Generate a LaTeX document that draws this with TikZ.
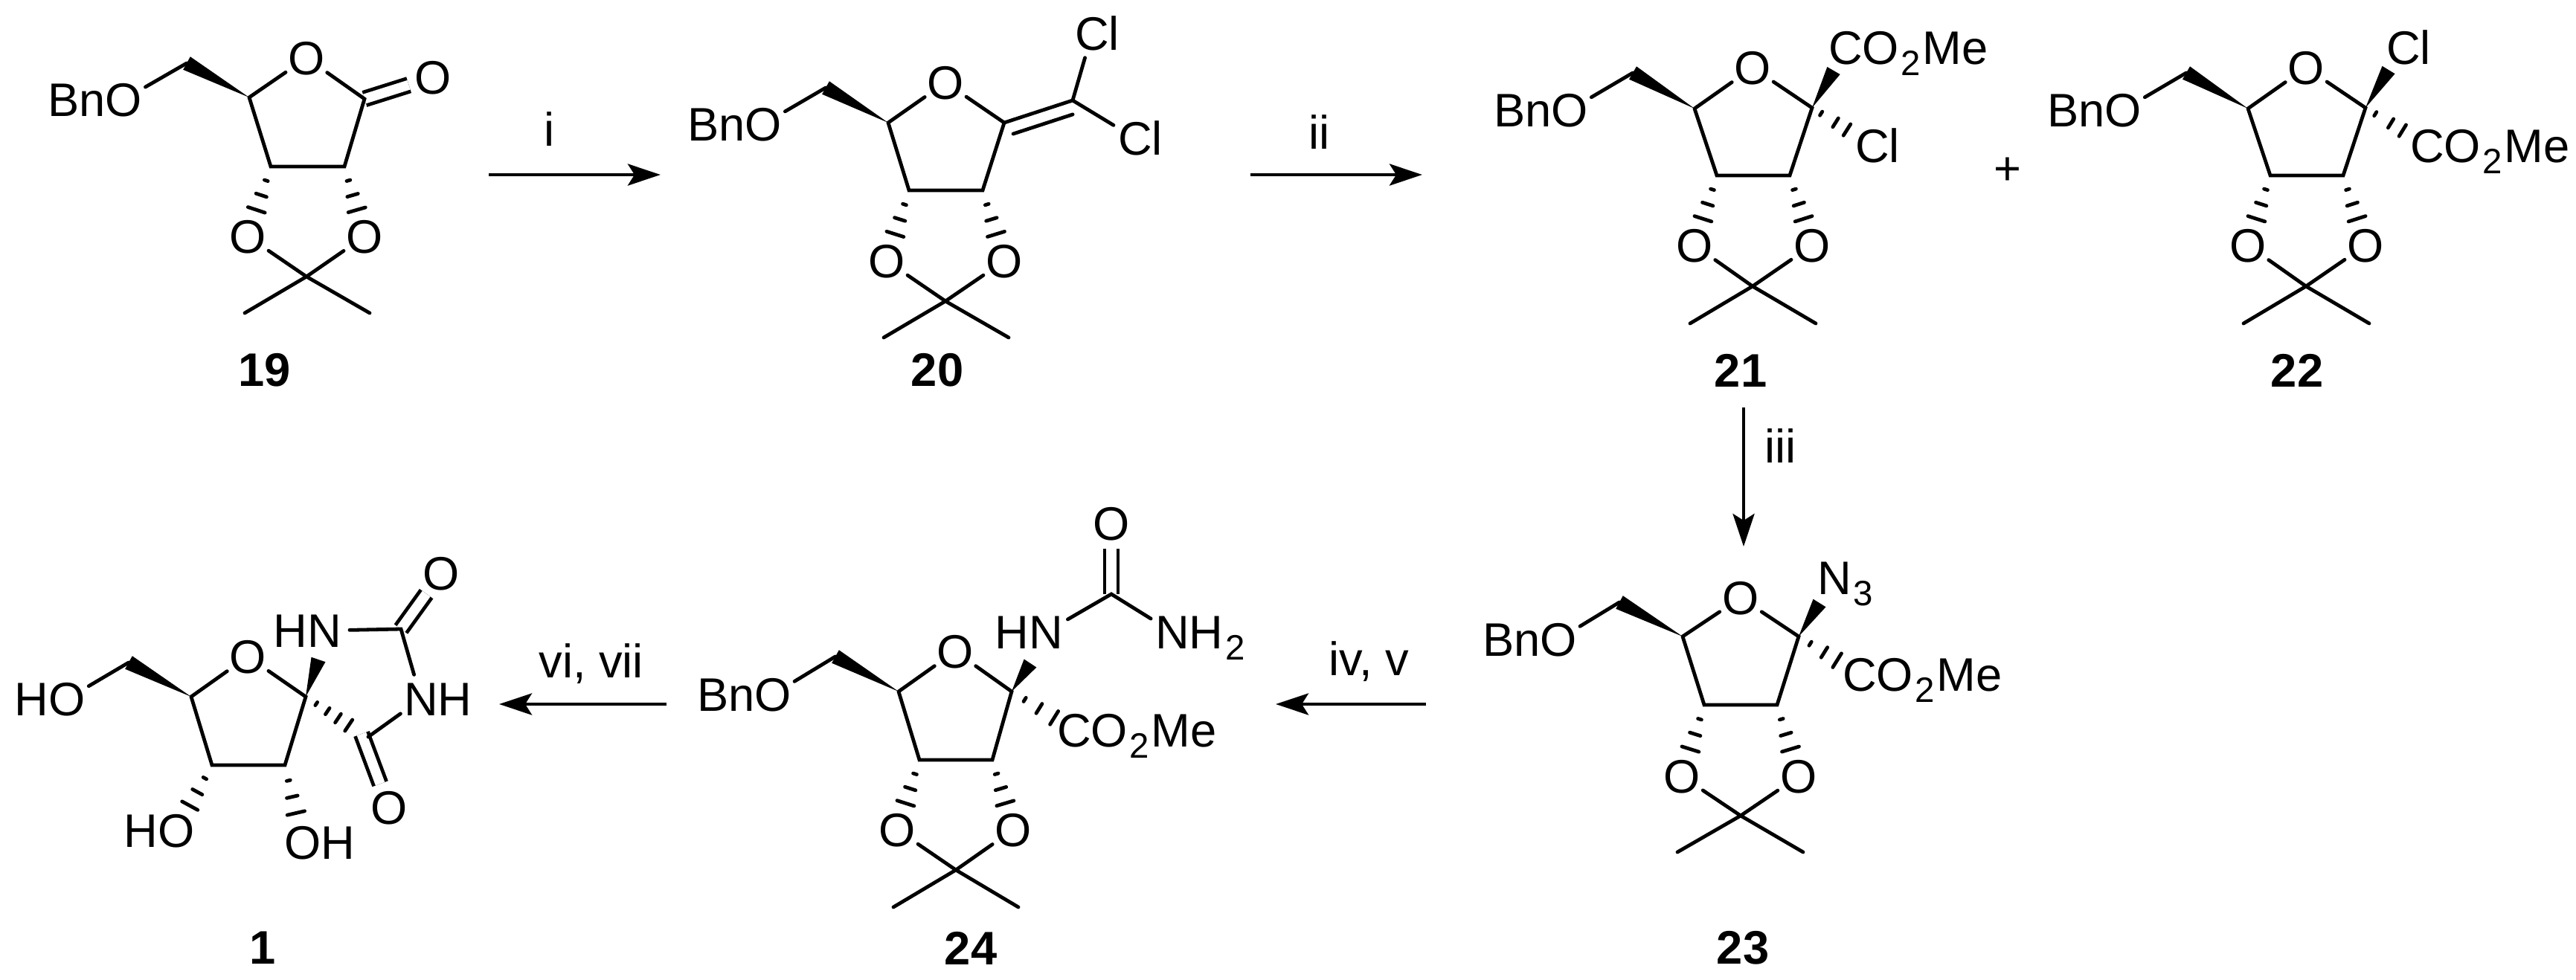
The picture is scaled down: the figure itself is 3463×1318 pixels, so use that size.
\documentclass[tikz,border=0pt]{standalone}
\usepackage{fontspec}
\setmainfont{Liberation Sans}
\usetikzlibrary{calc,arrows.meta}

\newcommand{\chemfont}{\fontsize{18}{20}\selectfont}
\newcommand{\subnum}[1]{\hspace{.04em}\raisebox{-.24em}{\fontsize{13.5}{14}\selectfont #1}\hspace{.04em}}
\newcommand{\wedgebond}[2]{\fill ($(#2.center)!1mm!90:(#1.center)$) -- (#1.center) -- ($(#2.center)!1mm!-90:(#1.center)$) -- cycle;}
\newcommand{\hashbond}[3][.2/.25mm,.41/.75mm,.62/1.2mm]{%
  \foreach \pos/\half in {#1}
    \draw[bond] ($(#2.center)!\pos!(#3.center)!\half!90:(#3.center)$) -- ($(#2.center)!\pos!(#3.center)!\half!-90:(#3.center)$);}

\tikzset{
  atom/.style={circle, inner sep=0pt, outer sep=0pt, minimum size=6.8mm, text height=4.5mm, text depth=0pt, font=\chemfont},
  bond/.style={line width=.48mm, line cap=round},
  dbond/.style={line width=.48mm, double, double distance=1.32mm},
  rxn/.style={line width=.48mm, -{Stealth[length=4.4mm,width=2.9mm,inset=.9mm]}},
  reagent/.style={inner sep=0pt, text height=4.5mm, text depth=0pt, font=\chemfont},
  cpd/.style={inner sep=0pt, font=\chemfont\bfseries}
}

\begin{document}
\begin{tikzpicture}[x=.1mm, y=-.1mm]
  \useasboundingbox (0,0) rectangle (3463,1318);

  % 19
  \coordinate (m19-C1) at (490,133); \coordinate (m19-C2) at (463,224); \coordinate (m19-C3) at (364,224);
  \coordinate (m19-C4) at (335,131); \coordinate (m19-C5) at (251,85);  \coordinate (m19-Cq) at (412,372);
  \coordinate (m19-M1) at (329,421); \coordinate (m19-M2) at (497,421);
  \node[atom] (m19-O) at (412,78) {O};
  \node[atom] (m19-OA) at (333,318) {O};
  \node[atom] (m19-OB) at (490,318) {O};
  \node[atom] (m19-OS) at (166,134) {\llap{Bn}O};
  \node[atom] (m19-Ok) at (582,104) {O};
  \draw[dbond] (m19-C1) -- (m19-Ok);

  % 20
  \coordinate (m20-C1) at (1350,165); \coordinate (m20-C2) at (1321,256); \coordinate (m20-C3) at (1222,256);
  \coordinate (m20-C4) at (1194,165); \coordinate (m20-C5) at (1110,118); \coordinate (m20-Cq) at (1271,405);
  \coordinate (m20-M1) at (1188,454); \coordinate (m20-M2) at (1356,454); \coordinate (m20-C6) at (1442,135);
  \node[atom] (m20-O) at (1271,111) {O};
  \node[atom] (m20-OA) at (1192,351) {O};
  \node[atom] (m20-OB) at (1350,351) {O};
  \node[atom] (m20-OS) at (1026,167) {\llap{Bn}O};
  \node[atom] (m20-Cl1) at (1468,45) {C\rlap{l}};
  \node[atom] (m20-Cl2) at (1526,186) {C\rlap{l}};
  \draw[bond] (m20-C1) -- (m20-C6) (m20-Cl1) -- (m20-C6) -- (m20-Cl2);
  \draw[bond] ($(m20-C1)!.07!(m20-C6)!1.8mm!-90:(m20-C6)$) -- ($(m20-C1)!.94!(m20-C6)!1.8mm!-90:(m20-C6)$);

  % 21
  \coordinate (m21-C1) at (2436,145); \coordinate (m21-C2) at (2406,236); \coordinate (m21-C3) at (2308,236);
  \coordinate (m21-C4) at (2278,146); \coordinate (m21-C5) at (2195,98);  \coordinate (m21-Cq) at (2356,385);
  \coordinate (m21-M1) at (2272,435); \coordinate (m21-M2) at (2441,435); \coordinate (m21-W) at (2465,95);
  \node[atom] (m21-O) at (2356,91) {O};
  \node[atom] (m21-OA) at (2278,330) {O};
  \node[atom] (m21-OB) at (2436,330) {O};
  \node[atom] (m21-OS) at (2110,148) {\llap{Bn}O};
  \node[atom] (m21-E) at (2481,64) {C\rlap{O\subnum{2}Me}};
  \node[atom] (m21-Cl) at (2517,196) {C\rlap{l}};
  \wedgebond{m21-C1}{m21-W}
  \hashbond[.15/.3mm,.39/.7mm,.58/.9mm]{m21-C1}{m21-Cl}

  % 22
  \coordinate (m22-C1) at (3180,145); \coordinate (m22-C2) at (3150,236); \coordinate (m22-C3) at (3052,236);
  \coordinate (m22-C4) at (3022,146); \coordinate (m22-C5) at (2939,98);  \coordinate (m22-Cq) at (3100,385);
  \coordinate (m22-M1) at (3016,435); \coordinate (m22-M2) at (3185,435); \coordinate (m22-W) at (3211,94);
  \node[atom] (m22-O) at (3100,91) {O};
  \node[atom] (m22-OA) at (3022,330) {O};
  \node[atom] (m22-OB) at (3180,330) {O};
  \node[atom] (m22-OS) at (2854,148) {\llap{Bn}O};
  \node[atom] (m22-Cl) at (3231,64) {C\rlap{l}};
  \node[atom] (m22-E) at (3263,196) {C\rlap{O\subnum{2}Me}};
  \wedgebond{m22-C1}{m22-W}
  \hashbond[.16/.3mm,.41/.7mm,.6/.9mm]{m22-C1}{m22-E}
  \node[reagent] (plus) at (2699,226) {+};

  % 23
  \coordinate (m23-C1) at (2418,856); \coordinate (m23-C2) at (2389,948); \coordinate (m23-C3) at (2291,948);
  \coordinate (m23-C4) at (2262,856); \coordinate (m23-C5) at (2177,810); \coordinate (m23-Cq) at (2340,1097);
  \coordinate (m23-M1) at (2255,1146); \coordinate (m23-M2) at (2424,1146); \coordinate (m23-W) at (2446,811);
  \node[atom] (m23-O) at (2340,804) {O};
  \node[atom] (m23-OA) at (2261,1044) {O};
  \node[atom] (m23-OB) at (2418,1044) {O};
  \node[atom] (m23-OS) at (2095,860) {\llap{Bn}O};
  \node[atom] (m23-N) at (2466,777) {N\rlap{\subnum{3}}};
  \node[atom] (m23-E) at (2500,907) {C\rlap{O\subnum{2}Me}};
  \wedgebond{m23-C1}{m23-W}
  \hashbond[.19/.3mm,.42/.8mm,.63/1.1mm]{m23-C1}{m23-E}

  % 24
  \coordinate (m24-C1) at (1360,930); \coordinate (m24-C2) at (1334,1022); \coordinate (m24-C3) at (1236,1022);
  \coordinate (m24-C4) at (1208,930); \coordinate (m24-C5) at (1123,883);  \coordinate (m24-Cq) at (1285,1170);
  \coordinate (m24-M1) at (1201,1220); \coordinate (m24-M2) at (1369,1220); \coordinate (m24-W) at (1385,892);
  \coordinate (m24-Cu) at (1494,799);
  \node[atom] (m24-O) at (1284,876) {O};
  \node[atom] (m24-OA) at (1206,1116) {O};
  \node[atom] (m24-OB) at (1362,1116) {O};
  \node[atom] (m24-OS) at (1039,934) {\llap{Bn}O};
  \node[atom] (m24-E) at (1444,982) {C\rlap{O\subnum{2}Me}};
  \node[atom] (m24-HN) at (1406,850) {\llap{H}N};
  \node[atom] (m24-NH2) at (1576,850) {N\rlap{H\subnum{2}}};
  \node[atom] (m24-Ok) at (1494,704) {O};
  \draw[dbond] (m24-Cu) -- (m24-Ok);
  \draw[bond] (m24-HN) -- (m24-Cu) -- (m24-NH2);
  \wedgebond{m24-C1}{m24-W}
  \hashbond[.21/.3mm,.44/.75mm,.68/1.05mm]{m24-C1}{m24-E}

  % 1
  \coordinate (m1-C1) at (411,937); \coordinate (m1-C2) at (383,1029); \coordinate (m1-C3) at (285,1029);
  \coordinate (m1-C4) at (257,937); \coordinate (m1-C5) at (173,891);  \coordinate (m1-W) at (428,887);
  \coordinate (m1-Ct) at (539,846); \coordinate (m1-Cb) at (486,987);  \coordinate (m1-Cj) at (495,991);
  \node[atom] (m1-O) at (333,883) {O};
  \node[atom] (m1-OA) at (237,1117) {\llap{H}O};
  \node[atom] (m1-OB) at (407,1133) {O\rlap{H}};
  \node[atom] (m1-OS) at (90,940) {\llap{H}O};
  \node[atom] (m1-HN) at (436,848) {\llap{H}N};
  \node[atom] (m1-NH) at (566,940) {N\rlap{H}};
  \node[atom] (m1-Ok1) at (593,771) {O};
  \node[atom] (m1-Ok2) at (523,1086) {O};
  \draw[dbond] (m1-Ct) -- (m1-Ok1);
  \draw[dbond] (m1-Cb) -- (m1-Ok2);
  \draw[bond] (m1-HN) -- (m1-Ct) -- (m1-NH) -- (m1-Cj);
  \wedgebond{m1-C1}{m1-W}
  \hashbond[.19/.25mm,.39/.5mm,.58/.7mm,.77/.9mm]{m1-C1}{m1-Cb}

  % shared ring and acetonide
  \foreach \m in {19,20,21,22,23,24,1} {
    \wedgebond{m\m-C4}{m\m-C5}
    \draw[bond] (m\m-OS) -- (m\m-C5) (m\m-C4) -- (m\m-O) -- (m\m-C1) -- (m\m-C2) -- (m\m-C3) -- (m\m-C4);
    \hashbond{m\m-C3}{m\m-OA}
    \hashbond{m\m-C2}{m\m-OB}
  }
  \foreach \m in {19,20,21,22,23,24} {
    \draw[bond] (m\m-OA) -- (m\m-Cq) -- (m\m-OB) (m\m-M1) -- (m\m-Cq) -- (m\m-M2);
  }

  % compound numbers
  \node[cpd] (lbl19) at (356,498) {19};
  \node[cpd] (lbl20) at (1260,498) {20};
  \node[cpd] (lbl21) at (2340,498) {21};
  \node[cpd] (lbl22) at (3088,498) {22};
  \node[cpd] (lbl23) at (2343,1275) {23};
  \node[cpd] (lbl24) at (1305,1275) {24};
  \node[cpd] (lbl1) at (353,1275) {1};

  % arrows
  \coordinate (a1s) at (657,235);   \coordinate (a1e) at (888,235);
  \coordinate (a2s) at (1681,235);  \coordinate (a2e) at (1912,235);
  \coordinate (a3s) at (2344,548);  \coordinate (a3e) at (2344,735);
  \coordinate (a4s) at (1917,947);  \coordinate (a4e) at (1715,947);
  \coordinate (a5s) at (896,947);   \coordinate (a5e) at (671,947);
  \draw[rxn] (a1s) -- node[reagent, pos=.355, above=3.6mm] (rgt1) {i} (a1e);
  \draw[rxn] (a2s) -- node[reagent, pos=.4, above=3.2mm] (rgt2) {ii} (a2e);
  \draw[rxn] (a3s) -- node[reagent, pos=.28, right=2.6mm] (rgt3) {iii} (a3e);
  \draw[rxn] (a4s) -- node[reagent, pos=.38, above=3.6mm] (rgt4) {iv, v} (a4e);
  \draw[rxn] (a5s) -- node[reagent, pos=.45, above=3.3mm] (rgt5) {vi, vii} (a5e);
\end{tikzpicture}
\end{document}
